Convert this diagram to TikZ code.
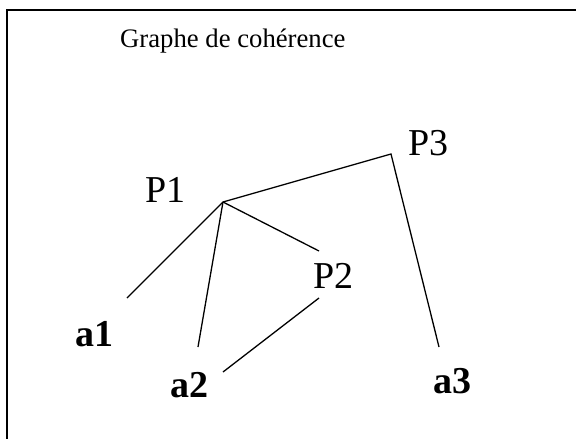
\documentclass[tikz,border=0pt]{standalone}
\usepackage{fontspec}
\setmainfont{Liberation Serif}
\tikzset{
  graph title/.style={anchor=base west, inner sep=0pt, font=\fontsize{26.7}{32}\selectfont},
  graph prop/.style={anchor=base west, inner sep=0pt, font=\fontsize{38}{44}\selectfont},
  graph arg/.style={anchor=base west, inner sep=0pt, font=\fontsize{38}{44}\selectfont\bfseries},
  graph edge/.style={line width=1.3pt, black},
  graph frame/.style={line width=2pt, black}
}
\begin{document}
\begin{tikzpicture}[x=1pt, y=-1pt]
\useasboundingbox (0,0) rectangle (576,439);
\draw[graph frame] (6.5,10) rectangle (620,480);
\node[graph title] (title) at (120,47) {Graphe de cohérence};
% propositions
\node[graph prop] (p1) at (145,202) {P1};
\node[graph prop] (p2) at (313,288) {P2};
\node[graph prop] (p3) at (408,155) {P3};
% arguments
\node[graph arg] (a1) at (75,346) {a1};
\node[graph arg] (a2) at (170,397) {a2};
\node[graph arg] (a3) at (433,393) {a3};
% line ends
\coordinate (hub) at (223,202);
\coordinate (p3top) at (391,154);
\coordinate (p2in) at (319,251);
\coordinate (p2out) at (319,298);
\coordinate (a1in) at (127,298);
\coordinate (a2in) at (198,347);
\coordinate (a2side) at (223,372);
\coordinate (a3in) at (439,347);
\draw[graph edge] (a3in)--(p3top)--(hub)--(a1in);
\draw[graph edge] (hub)--(a2in);
\draw[graph edge] (hub)--(p2in);
\draw[graph edge] (p2out)--(a2side);
\end{tikzpicture}
\end{document}
